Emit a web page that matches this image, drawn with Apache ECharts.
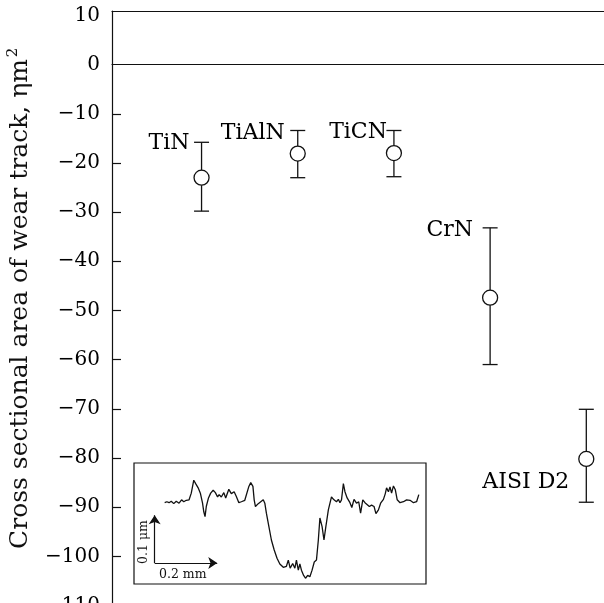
<!DOCTYPE html>
<html>
<head>
<meta charset="utf-8">
<script src="https://cdn.jsdelivr.net/npm/echarts@6/dist/echarts.min.js"></script>
<style>html,body{margin:0;padding:0;background:#fff}#main{width:604px;height:603px}</style>
</head>
<body>
<div id="main"></div>
<script>
// ---- main chart data ----
const categories = ['TiN', 'TiAlN', 'TiCN', 'CrN', 'AISI D2'];
const meanArea = [-23.0, -18.1, -18.0, -47.4, -80.2];
const errUpper = [-15.8, -13.4, -13.4, -33.2, -70.1];
const errLower = [-29.8, -23.0, -22.8, -61.0, -89.0];
const yTickLabels = [-110, -100, -90, -80, -70, -60, -50, -40, -30, -20, -10, 0, 10];
const yTickMarks = [-110, -100, -90, -80, -70, -60, -50, -40, -30, -20, -10];

// ---- inset: surface profile across the wear track (x in µm, height in nm) ----
const profileX = [0, 7, 14, 21, 29, 37, 46, 54, 61, 69, 78, 85, 93, 99, 107, 114, 121, 125, 129, 133,
  140, 147, 155, 162, 169, 174, 181, 189, 195, 205, 213, 222, 229, 237, 245, 256, 262, 269, 275, 282,
  286, 290, 299, 307, 315, 320, 325, 333, 341, 350, 359, 368, 379, 389, 395, 401, 409, 416, 421, 427,
  432, 437, 444, 450, 457, 464, 471, 478, 485, 491, 496, 503, 509, 515, 523, 533, 541, 549, 555, 560,
  565, 571, 576, 583, 592, 598, 605, 613, 620, 626, 633, 640, 645, 654, 661, 669, 675, 683, 690, 699,
  705, 709, 715, 720, 725, 731, 737, 743, 752, 763, 773, 784, 795, 805, 812];
const profileH = [-6, -4, -6, -3, -8, -3, -7, 0, -4, -1, 0, 14, 41, 34, 25, 14, -7, -25, -35, -14,
  4, 14, 20, 15, 6, 11, 6, 15, 4, 22, 13, 17, 7, -6, -4, -1, 1, 28, 36, 28,
  0, -14, -8, -4, 0, -7, -28, -56, -84, -105, -122, -134, -141, -139, -126, -143, -133, -143, -126, -147,
  -134, -147, -158, -164, -158, -161, -147, -130, -126, -84, -38, -56, -84, -56, -21, 6, 0, -4, 1, -6,
  0, 34, 17, 4, -6, -16, 1, -7, -4, -28, 0, -6, -4, -14, -11, -14, -29, -21, -7, 1,
  13, 25, 17, 27, 14, 29, 21, 0, -6, -4, 0, -1, -6, -4, 11];
const scaleBarX = 200;  // µm (0.2 mm)
const scaleBarH = 100;  // nm (0.1 µm)

const INK = '#111';
const SERIF = '"DejaVu Serif", serif';
// label placement relative to upper error cap (layout only)
const labelOffsets = [[-12, 1], [-13, 3], [-7, 2], [-17, 2], [-17, 73]];

const chart = echarts.init(document.getElementById('main'), null, {renderer: 'canvas'});

const xMin = 0.069, xMax = 5.184;
const insetXMin = -98, insetXMax = 835, insetYMin = -176, insetYMax = 77;
const barOrigin = [-32, -132];

const option = {
  backgroundColor: '#fff',
  animation: false,
  grid: [
    {left: 112, right: 0, top: 11, bottom: -2.5, containLabel: false, outerBoundsMode: 'none'},
    {left: 134, top: 463, width: 292, height: 121, show: true, backgroundColor: '#fff',
     borderColor: INK, borderWidth: 1.2, z: 10, containLabel: false, outerBoundsMode: 'none'}
  ],
  xAxis: [
    {type: 'value', gridIndex: 0, min: xMin, max: xMax, position: 'bottom',
     axisLine: {show: true, onZero: true, lineStyle: {color: INK, width: 1.2}},
     axisTick: {show: false}, axisLabel: {show: false}, splitLine: {show: false}},
    {type: 'value', gridIndex: 0, min: xMin, max: xMax, position: 'top',
     axisLine: {show: true, onZero: false, lineStyle: {color: INK, width: 1.2}},
     axisTick: {show: false}, axisLabel: {show: false}, splitLine: {show: false}},
    {type: 'value', gridIndex: 1, min: insetXMin, max: insetXMax, show: false}
  ],
  yAxis: [
    {type: 'value', gridIndex: 0, min: -110, max: 10.9,
     name: '{t|Cross sectional area of wear track, ηm}{s|2}',
     nameLocation: 'middle', nameGap: 76, nameRotate: 90,
     nameTextStyle: {
       padding: [0, 0, 0, 20],
       rich: {
         t: {fontFamily: SERIF, fontSize: 25, color: INK, lineHeight: 30},
         s: {fontFamily: SERIF, fontSize: 15, color: INK, verticalAlign: 'top', lineHeight: 30, padding: [0, 0, 14, 2]}
       }
     },
     axisLine: {show: true, onZero: false, lineStyle: {color: INK, width: 1.2}},
     axisTick: {show: true, inside: true, length: 9, customValues: yTickMarks, lineStyle: {color: INK, width: 1.2}},
     axisLabel: {show: true, customValues: yTickLabels, margin: 12, color: '#000',
       fontFamily: SERIF, fontSize: 20, padding: [5, 0, 0, 0],
       formatter: v => String(v).replace('-', '\u2212')},
     splitLine: {show: false}},
    {type: 'value', gridIndex: 1, min: insetYMin, max: insetYMax, show: false}
  ],
  series: [
    {
      type: 'custom', xAxisIndex: 0, yAxisIndex: 0, z: 3,
      data: categories.map((c, i) => [i + 1, errLower[i], errUpper[i], i]),
      renderItem: function (params, api) {
        const x = api.value(0);
        const idx = api.value(3);
        const top = api.coord([x, api.value(2)]);
        const bot = api.coord([x, api.value(1)]);
        const hw = 7.5;
        const ls = {stroke: INK, lineWidth: 1.3};
        const off = labelOffsets[idx];
        return {
          type: 'group',
          children: [
            {type: 'line', shape: {x1: top[0], y1: top[1], x2: bot[0], y2: bot[1]}, style: ls},
            {type: 'line', shape: {x1: top[0] - hw, y1: top[1], x2: top[0] + hw, y2: top[1]}, style: ls},
            {type: 'line', shape: {x1: bot[0] - hw, y1: bot[1], x2: bot[0] + hw, y2: bot[1]}, style: ls},
            {type: 'text', x: top[0] + off[0], y: top[1] + off[1],
             style: {text: categories[idx], fill: '#000', font: '22px ' + SERIF, align: 'right', verticalAlign: 'middle'}}
          ]
        };
      }
    },
    {
      type: 'scatter', xAxisIndex: 0, yAxisIndex: 0, z: 5,
      data: categories.map((c, i) => [i + 1, meanArea[i]]),
      symbol: 'circle', symbolSize: 15,
      itemStyle: {color: '#fff', borderColor: INK, borderWidth: 1.3, opacity: 1}
    },
    {
      type: 'line', xAxisIndex: 2, yAxisIndex: 1, z: 12,
      data: profileX.map((x, i) => [x, profileH[i]]),
      showSymbol: false, symbol: 'none',
      lineStyle: {color: INK, width: 1.3}
    },
    {
      type: 'lines', coordinateSystem: 'cartesian2d', xAxisIndex: 2, yAxisIndex: 1, z: 12,
      symbol: ['none', 'arrow'], symbolSize: [7, 9],
      lineStyle: {color: INK, width: 1.2, opacity: 1},
      data: [
        {coords: [barOrigin, [barOrigin[0], barOrigin[1] + scaleBarH]]},
        {coords: [barOrigin, [barOrigin[0] + scaleBarX, barOrigin[1]]]}
      ]
    }
  ],
  graphic: [
    {type: 'text', x: 144, y: 542, rotation: Math.PI / 2, z: 20,
     style: {text: '0.1 μm', fill: INK, font: '12.5px ' + SERIF, align: 'center', verticalAlign: 'middle'}},
    {type: 'text', x: 159, y: 575, z: 20,
     style: {text: '0.2 mm', fill: INK, font: '12.5px ' + SERIF, align: 'left', verticalAlign: 'middle'}}
  ]
};
chart.setOption(option);
</script>
</body>
</html>
